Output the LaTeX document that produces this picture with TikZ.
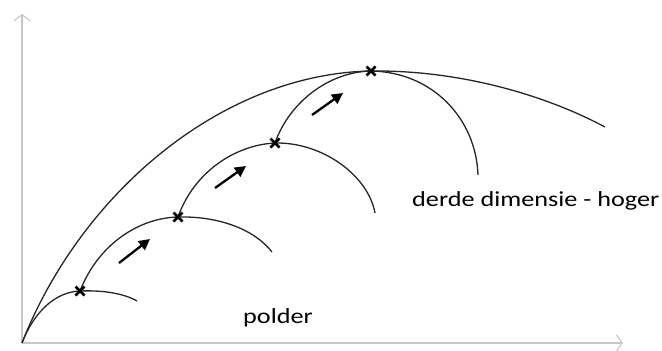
\documentclass[tikz,border=0pt]{standalone}
\usepackage{fontspec}
\usepackage{graphicx}
\setmainfont{Carlito}
\usetikzlibrary{arrows.meta}
\tikzset{
  axis/.style={draw=black!22, line width=1.1pt, -{Straight Barb[length=6pt,width=16pt,line width=1.1pt]}},
  curve/.style={draw=black!85, line width=1.3pt},
  push/.style={draw=black, line width=2.3pt, -{Triangle[length=11pt,width=11pt]}},
  label/.style={anchor=base west, inner sep=0pt, font=\fontsize{21.5}{25}\selectfont, text=black},
  cross/.style={draw=black, line width=2.6pt}
}
\newcommand{\xmark}[1]{\draw[cross] ([shift={(-4.5,-4.5)}]#1) -- ([shift={(4.5,4.5)}]#1) ([shift={(-4.5,4.5)}]#1) -- ([shift={(4.5,-4.5)}]#1);}
\newcommand{\widetext}[1]{\scalebox{1.22}[1]{#1}}
\begin{document}
\begin{tikzpicture}[x=1pt,y=-1pt]
\useasboundingbox (0,0) rectangle (662,351);
% named points
\coordinate (o) at (22,343);
\coordinate (ytop) at (22,14);
\coordinate (xend) at (623,343);
\coordinate (c1) at (80,291);
\coordinate (c2) at (178,217);
\coordinate (c3) at (275,143);
\coordinate (c4) at (371,71);
\coordinate (e1) at (137,301);
\coordinate (e2) at (272,252);
\coordinate (e3) at (375,213);
\coordinate (e4) at (478,175);
\coordinate (em) at (605,127);
\coordinate (a1s) at (119,263); \coordinate (a1e) at (150,239);
\coordinate (a2s) at (215,188); \coordinate (a2e) at (246,166);
\coordinate (a3s) at (312,115); \coordinate (a3e) at (343,93);
% axes
\draw[axis] (o) -- (ytop);
\draw[axis] (o) -- (xend);
% main envelope curve
\draw[curve] (o) .. controls (80,195) and (220,74) .. (c4) .. controls (460,70) and (545,95) .. (em);
% successive arcs
\draw[curve] (o) .. controls (34,312) and (55,292) .. (c1) .. controls (105,290) and (125,294) .. (e1);
\draw[curve] (c1) .. controls (98,245) and (138,218) .. (c2) .. controls (220,216) and (255,230) .. (e2);
\draw[curve] (c2) .. controls (194,172) and (235,145) .. (c3) .. controls (322,142) and (368,175) .. (e3);
\draw[curve] (c3) .. controls (289,103) and (328,72) .. (c4) .. controls (432,72) and (476,118) .. (e4);
% crosses
\xmark{c1}
\xmark{c2}
\xmark{c3}
\xmark{c4}
% arrows
\draw[push] (a1s) -- (a1e);
\draw[push] (a2s) -- (a2e);
\draw[push] (a3s) -- (a3e);
% labels
\node[label] (polder) at (243,323) {\widetext{polder}};
\node[label] (hoger) at (412,206) {\widetext{derde dimensie - hoger}};
\end{tikzpicture}
\end{document}
